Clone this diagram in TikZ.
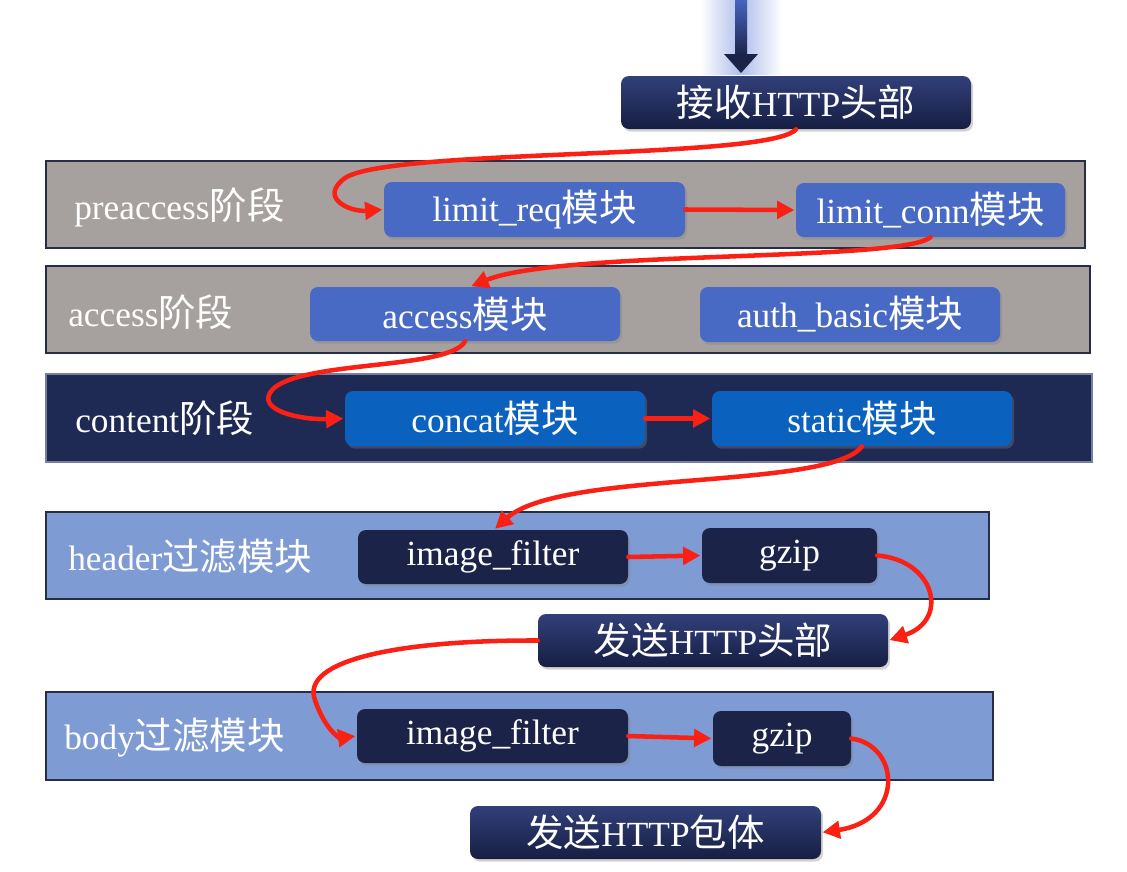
\documentclass[tikz,border=0pt]{standalone}
\usepackage{fontspec}
\setmainfont{Liberation Serif}
\newfontfamily\cjk[Scale=1.06]{Noto Sans CJK SC}
\newcommand{\zh}[1]{{\cjk #1}}
\usetikzlibrary{arrows.meta,shadows,calc}
\definecolor{bandgray}{RGB}{166,161,159}
\definecolor{bandborder}{RGB}{40,45,70}
\definecolor{modblue}{RGB}{72,106,196}
\definecolor{contentbg}{RGB}{30,42,84}
\definecolor{contentmod}{RGB}{10,98,190}
\definecolor{filterbg}{RGB}{127,155,212}
\definecolor{darknode}{RGB}{27,35,72}
\definecolor{titletop}{RGB}{50,64,122}
\definecolor{titlebot}{RGB}{22,30,66}
\definecolor{redarr}{RGB}{250,32,20}
\definecolor{glow}{RGB}{175,190,235}
\definecolor{shafttop}{RGB}{70,100,190}
\tikzset{
  sz/.style 2 args={minimum width=#1*0.75pt, minimum height=#2*0.75pt},
  band/.style={draw=bandborder, line width=1.2pt, inner sep=0pt},
  grayband/.style={band, fill=bandgray},
  contentband/.style={band, fill=contentbg, draw=contentbg!60!white},
  filterband/.style={band, fill=filterbg},
  modbox/.style={rounded corners=6pt, inner sep=0pt, text=white,
    drop shadow={shadow xshift=1.5pt, shadow yshift=-2pt, opacity=0.35}},
  bluemod/.style={modbox, fill=modblue},
  contentmodbox/.style={modbox, fill=contentmod},
  darkmod/.style={modbox, fill=darknode},
  titlebox/.style={modbox, top color=titletop, bottom color=titlebot},
  bandlabel/.style={anchor=west, text=white, inner sep=0pt},
  redarrow/.style={draw=redarr, line width=3.4pt, line cap=round,
    -{Triangle[length=13pt,width=13pt]}, shorten >=1pt},
}
\begin{document}
\begin{tikzpicture}[x=0.75pt,y=-0.75pt, font=\fontsize{26.5}{31}\selectfont]
\useasboundingbox (0,0) rectangle (1127,871);
% top incoming arrow with glow
\shade[left color=white, right color=white, middle color=glow] (700,0) rectangle (782,74);
\coordinate (topin) at (741,0);
% title box
\node[titlebox, sz={350}{53}] (recv) at (796,102.5) {\zh{接收}HTTP\zh{头部}};
\shade[top color=shafttop, bottom color=darknode] (735,0) rectangle (747,56);
\fill[darknode] (724,54) -- (758,54) -- (741,73) -- cycle;

% preaccess
\node[grayband, sz={1039}{87}] (pre) at (565.5,204.5) {};
\node[bandlabel] (prelbl) at (74,207) {preaccess\zh{阶段}};
\node[bluemod, sz={301}{55}] (lreq) at (534.5,209.5) {limit\_req\zh{模块}};
\node[bluemod, sz={269}{54}] (lconn) at (930.5,210) {limit\_conn\zh{模块}};

% access
\node[grayband, sz={1044}{87}] (acc) at (568,309.5) {};
\node[bandlabel] (acclbl) at (68,312) {access\zh{阶段}};
\node[bluemod, sz={310}{54}] (accm) at (465,314) {access\zh{模块}};
\node[bluemod, sz={300}{55}] (auth) at (850,314.5) {auth\_basic\zh{模块}};

% content
\node[contentband, sz={1046}{88}] (cont) at (569,418) {};
\node[bandlabel] (contlbl) at (75,418) {content\zh{阶段}};
\node[contentmodbox, sz={300}{55}] (concat) at (495,418.5) {concat\zh{模块}};
\node[contentmodbox, sz={300}{55}] (static) at (862,418.5) {static\zh{模块}};

% header filter
\node[filterband, sz={943}{87}] (hdr) at (517.5,555.5) {};
\node[bandlabel] (hdrlbl) at (68,556) {header\zh{过滤模块}};
\node[darkmod, sz={270}{54}] (imgf1) at (493,557) {image\_filter};
\node[darkmod, sz={175}{55}] (gzip1) at (789.5,555.5) {gzip};

\node[titlebox, sz={350}{53}] (sendh) at (713,640.5) {\zh{发送}HTTP\zh{头部}};

% body filter
\node[filterband, sz={947}{88}] (body) at (519.5,736) {};
\node[bandlabel] (bodylbl) at (64,738) {body\zh{过滤模块}};
\node[darkmod, sz={271}{54}] (imgf2) at (492.5,736) {image\_filter};
\node[darkmod, sz={138}{55}] (gzip2) at (782,738.5) {gzip};

\node[titlebox, sz={351}{53}] (sendb) at (645.5,832.5) {\zh{发送}HTTP\zh{包体}};

% red connectors
\draw[redarrow] (recv.south) .. controls (770,160) and (390,148) .. (345,178)
  .. controls (318,198) and (350,212) .. (lreq.west);
\draw[redarrow] (lreq.east) -- (lconn.west);
\draw[redarrow] (lconn.south) .. controls (900,262) and (560,250) .. ($(accm.north)+(5,0)$);
\draw[redarrow] (accm.south) .. controls (450,370) and (300,360) .. (272,390)
  .. controls (255,410) and (300,420) .. (concat.west);
\draw[redarrow] (concat.east) -- (static.west);
\draw[redarrow] (static.south) .. controls (830,490) and (560,470) .. ($(imgf1.north)+(1,0)$);
\draw[redarrow] (imgf1.east) -- (gzip1.west);
\draw[redarrow] (gzip1.east) .. controls (935,560) and (950,620) .. (sendh.east);
\draw[redarrow] (sendh.west) .. controls (400,640) and (300,660) .. (315,700)
  .. controls (325,730) and (340,738) .. (imgf2.west);
\draw[redarrow] (imgf2.east) -- (gzip2.west);
\draw[redarrow] (gzip2.east) .. controls (900,745) and (905,820) .. (sendb.east);
\end{tikzpicture}
\end{document}
